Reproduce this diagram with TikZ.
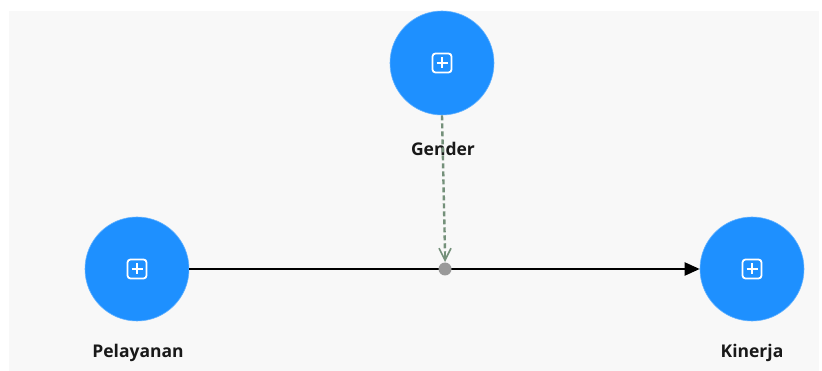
\documentclass[tikz,border=0pt]{standalone}
\usepackage{fontspec}
\setmainfont{Open Sans}
\usetikzlibrary{arrows.meta}
\definecolor{canvas}{HTML}{F8F8F8}
\definecolor{varblue}{HTML}{1E90FF}
\definecolor{modline}{HTML}{74907A}
\definecolor{joint}{HTML}{9A9A9A}
\tikzset{
  latent/.style={circle, fill=varblue, draw=varblue!70!white, line width=0.6pt, minimum size=104pt, inner sep=0pt},
  varlabel/.style={font=\bfseries\fontsize{17.5}{20}\selectfont, text=black!90, inner sep=0pt},
  expand/.pic={
    \draw[white, line width=1.8pt, rounded corners=3pt] (-9.5,-9.5) rectangle (9.5,9.5);
    \draw[white, line width=1.8pt] (-5.5,0) -- (5.5,0) (0,-5.5) -- (0,5.5);
  },
  mainpath/.style={line width=2.2pt, black, -{Triangle[length=15pt, width=13pt]}},
  moderation/.style={modline, line width=2.4pt, dash pattern=on 5pt off 3pt},
  modtip/.style={modline, line width=1.6pt, -{Straight Barb[length=12pt, width=12pt, line width=1.6pt]}}
}
\begin{document}
\begin{tikzpicture}[x=1pt, y=-1pt]
  \useasboundingbox (0,0) rectangle (822,371);
  \fill[white] (0,0) rectangle (822,371);
  \fill[canvas] (9,11) rectangle (819,371);

  % latent variables
  \node[latent] (gender) at (442,63) {};
  \node[latent] (pelayanan) at (137,269) {};
  \node[latent] (kinerja) at (752,269) {};
  \pic at (gender) {expand};
  \pic at (pelayanan) {expand};
  \pic at (kinerja) {expand};

  \node[varlabel] (lgender) at (443,149) {Gender};
  \node[varlabel] (lpelayanan) at (138,353) {Pelayanan};
  \node[varlabel] (lkinerja) at (752,353) {Kinerja};

  % structural path with interaction point
  \coordinate (mid) at (445,269);
  \coordinate (tipbase) at (445,252);
  \coordinate (tipend) at (445,262);
  \draw[mainpath] (pelayanan.east) -- (kinerja.west);
  \draw[moderation] (gender.south) -- (tipbase);
  \draw[modtip] (tipbase) -- (tipend);
  \node[circle, fill=joint, minimum size=13pt, inner sep=0pt] (dot) at (mid) {};
\end{tikzpicture}
\end{document}
